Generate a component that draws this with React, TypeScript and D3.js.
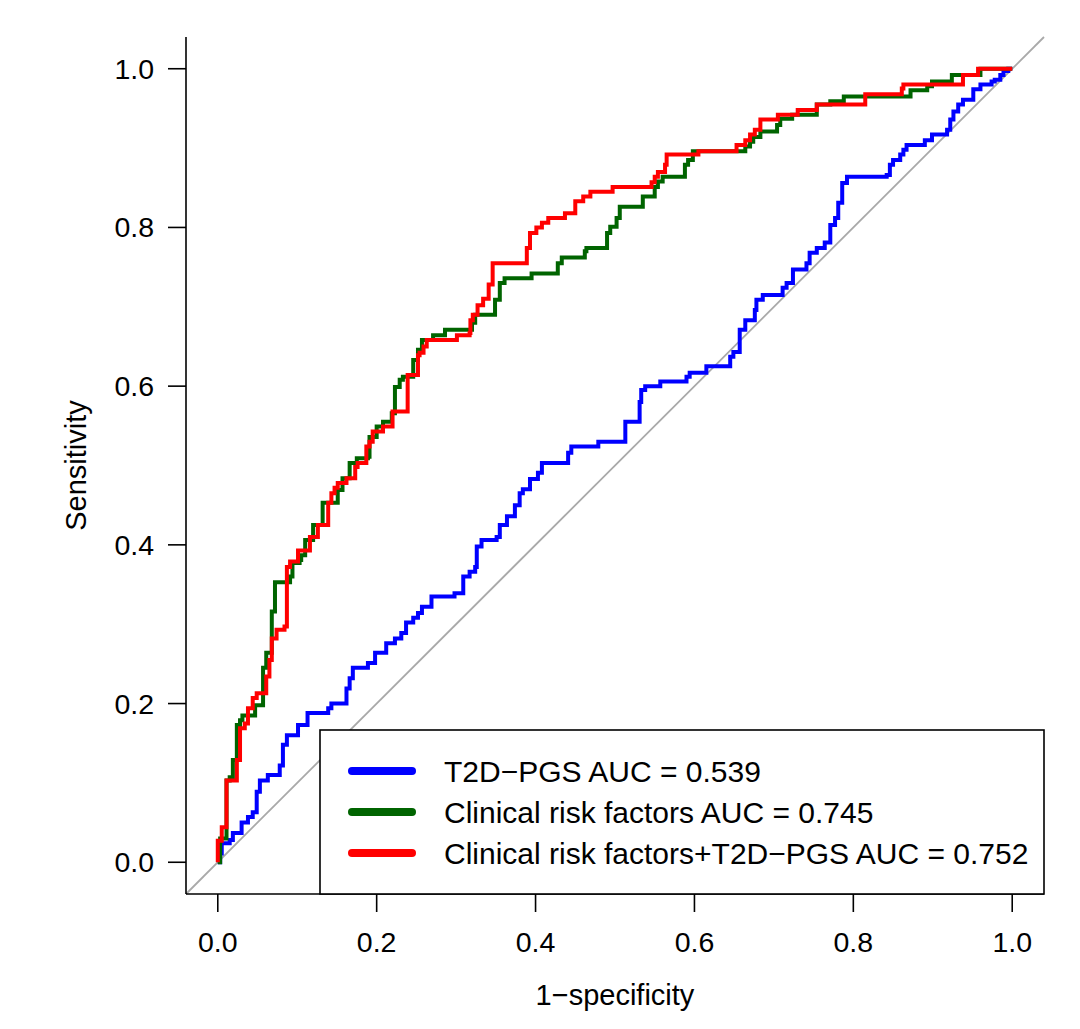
import React from "react";
import * as d3 from "d3";

// ROC curves: [1-specificity, sensitivity] at each step
const pgsCurve: [number, number][] = [
  [0, 0], [0.003, 0.011], [0.005, 0.024], [0.015, 0.028], [0.019, 0.037], [0.03, 0.05],
  [0.038, 0.057], [0.044, 0.063], [0.049, 0.089], [0.053, 0.103], [0.063, 0.11],
  [0.078, 0.122], [0.082, 0.148], [0.087, 0.16], [0.101, 0.173], [0.113, 0.188],
  [0.139, 0.194], [0.143, 0.2], [0.162, 0.219], [0.166, 0.232], [0.17, 0.245],
  [0.189, 0.251], [0.198, 0.264], [0.212, 0.276], [0.223, 0.282], [0.231, 0.289],
  [0.237, 0.302], [0.246, 0.308], [0.252, 0.314], [0.257, 0.322], [0.269, 0.335],
  [0.298, 0.339], [0.309, 0.36], [0.317, 0.366], [0.324, 0.372], [0.326, 0.398],
  [0.332, 0.406], [0.351, 0.41], [0.355, 0.425], [0.364, 0.436], [0.374, 0.45],
  [0.38, 0.465], [0.384, 0.47], [0.393, 0.483], [0.403, 0.491], [0.408, 0.503],
  [0.441, 0.516], [0.445, 0.524], [0.479, 0.53], [0.513, 0.555], [0.531, 0.58],
  [0.533, 0.595], [0.538, 0.6], [0.557, 0.606], [0.59, 0.612], [0.594, 0.617],
  [0.615, 0.625], [0.645, 0.637], [0.649, 0.643], [0.657, 0.671], [0.664, 0.683],
  [0.676, 0.696], [0.678, 0.709], [0.686, 0.715], [0.711, 0.724], [0.716, 0.73],
  [0.724, 0.747], [0.741, 0.755], [0.745, 0.768], [0.754, 0.774], [0.764, 0.781],
  [0.771, 0.803], [0.777, 0.812], [0.781, 0.831], [0.786, 0.856], [0.792, 0.864],
  [0.842, 0.866], [0.846, 0.879], [0.85, 0.885], [0.859, 0.892], [0.863, 0.898],
  [0.867, 0.904], [0.89, 0.91], [0.899, 0.917], [0.918, 0.923], [0.922, 0.936],
  [0.926, 0.946], [0.932, 0.955], [0.938, 0.961], [0.951, 0.974], [0.96, 0.98],
  [0.974, 0.984], [0.978, 0.986], [0.985, 0.992], [0.989, 0.997], [0.995, 1.0], [1.0, 1.0],
];

const clinicalCurve: [number, number][] = [
  [0, 0], [0.003, 0.03], [0.011, 0.103], [0.015, 0.107], [0.019, 0.129], [0.024, 0.173],
  [0.028, 0.179], [0.031, 0.185], [0.047, 0.198], [0.057, 0.245], [0.061, 0.264],
  [0.068, 0.316], [0.072, 0.353], [0.091, 0.36], [0.094, 0.377], [0.103, 0.381],
  [0.105, 0.387], [0.11, 0.406], [0.12, 0.425], [0.132, 0.453], [0.151, 0.469],
  [0.157, 0.484], [0.166, 0.503], [0.175, 0.509], [0.189, 0.511], [0.191, 0.536],
  [0.2, 0.549], [0.208, 0.555], [0.219, 0.566], [0.223, 0.599], [0.229, 0.608],
  [0.233, 0.612], [0.246, 0.633], [0.252, 0.646], [0.257, 0.658], [0.271, 0.664],
  [0.286, 0.671], [0.32, 0.68], [0.324, 0.69], [0.349, 0.709], [0.355, 0.73],
  [0.361, 0.736], [0.395, 0.742], [0.428, 0.755], [0.433, 0.762], [0.462, 0.77],
  [0.464, 0.774], [0.49, 0.793], [0.494, 0.801], [0.502, 0.812], [0.506, 0.826],
  [0.535, 0.839], [0.55, 0.851], [0.554, 0.858], [0.56, 0.864], [0.588, 0.879],
  [0.592, 0.885], [0.598, 0.896], [0.664, 0.902], [0.67, 0.908], [0.674, 0.914],
  [0.683, 0.921], [0.704, 0.929], [0.708, 0.937], [0.723, 0.942], [0.754, 0.955],
  [0.771, 0.959], [0.788, 0.965], [0.872, 0.973], [0.893, 0.978], [0.899, 0.984],
  [0.924, 0.992], [0.96, 1.0], [1.0, 1.0],
];

const combinedCurve: [number, number][] = [
  [0, 0], [0, 0.027], [0.005, 0.044], [0.011, 0.103], [0.024, 0.129], [0.028, 0.169],
  [0.034, 0.175], [0.038, 0.194], [0.044, 0.207], [0.049, 0.213], [0.061, 0.234],
  [0.065, 0.255], [0.068, 0.282], [0.074, 0.293], [0.084, 0.297], [0.087, 0.372],
  [0.091, 0.379], [0.101, 0.393], [0.116, 0.41], [0.126, 0.425], [0.139, 0.453],
  [0.143, 0.465], [0.147, 0.472], [0.151, 0.478], [0.162, 0.484], [0.173, 0.498],
  [0.176, 0.503], [0.187, 0.524], [0.191, 0.53], [0.195, 0.543], [0.208, 0.549],
  [0.22, 0.568], [0.239, 0.614], [0.252, 0.639], [0.254, 0.642], [0.259, 0.65],
  [0.263, 0.658], [0.301, 0.664], [0.317, 0.667], [0.318, 0.683], [0.321, 0.69],
  [0.327, 0.702], [0.334, 0.71], [0.341, 0.728], [0.346, 0.755], [0.389, 0.774],
  [0.393, 0.793], [0.401, 0.8], [0.408, 0.806], [0.416, 0.812], [0.437, 0.818],
  [0.45, 0.833], [0.46, 0.839], [0.469, 0.845], [0.497, 0.851], [0.546, 0.857],
  [0.55, 0.864], [0.554, 0.87], [0.563, 0.879], [0.565, 0.892], [0.605, 0.896],
  [0.653, 0.904], [0.664, 0.91], [0.67, 0.917], [0.676, 0.923], [0.683, 0.936],
  [0.705, 0.942], [0.73, 0.948], [0.754, 0.955], [0.815, 0.968], [0.861, 0.975],
  [0.863, 0.98], [0.938, 0.992], [0.957, 1.0], [1.0, 1.0],
];

const seriesNames = [
  "T2D\u2212PGS AUC = 0.539",
  "Clinical risk factors AUC = 0.745",
  "Clinical risk factors+T2D\u2212PGS AUC = 0.752",
];
const seriesColors = ["#0000ff", "#006400", "#ff0000"];
const tickValues = [0, 0.2, 0.4, 0.6, 0.8, 1.0];
const xTitle = "1\u2212specificity";
const yTitle = "Sensitivity";

const W = 1080;
const H = 1029;
const FONT = "'Liberation Sans', Arial, Helvetica, sans-serif";

export default function App() {
  const x = d3.scaleLinear().domain([-0.04, 1.04]).range([186, 1044]);
  const y = d3.scaleLinear().domain([-0.04, 1.04]).range([894, 37]);
  const line = d3
    .line<[number, number]>()
    .x((d) => x(d[0]))
    .y((d) => y(d[1]))
    .curve(d3.curveStepAfter);
  const curves = [pgsCurve, clinicalCurve, combinedCurve];

  const [x0, x1] = x.range();
  const [y0, y1] = y.range();
  const legendTop = 730;
  const legendRows = [771, 812, 853];

  return (
    <svg
      width={W}
      height={H}
      style={{ position: "absolute", left: 0, top: 0, display: "block", background: "#fff" }}
      fontFamily={FONT}
    >
      <rect x={0} y={0} width={W} height={H} fill="#fff" />
      {/* diagonal reference */}
      <line x1={x0} y1={y0} x2={x1} y2={y1} stroke="#a9a9a9" strokeWidth={1.8} />
      {/* curves */}
      {curves.map((c, i) => (
        <path
          key={i}
          d={line(c) || ""}
          fill="none"
          stroke={seriesColors[i]}
          strokeWidth={4}
          strokeLinejoin="miter"
          strokeLinecap="butt"
        />
      ))}
      {/* axes */}
      <line x1={x0} y1={y0} x2={x0} y2={y1} stroke="#000" strokeWidth={1.6} />
      <line x1={x0} y1={y0} x2={x1} y2={y0} stroke="#000" strokeWidth={1.6} />
      {tickValues.map((t) => (
        <g key={"x" + t}>
          <line x1={x(t)} x2={x(t)} y1={y0} y2={y0 + 18} stroke="#000" strokeWidth={1.6} />
          <text x={x(t)} y={952} textAnchor="middle" fontSize={28.5} fill="#000">
            {t.toFixed(1)}
          </text>
        </g>
      ))}
      {tickValues.map((t) => (
        <g key={"y" + t}>
          <line x1={x0 - 18} x2={x0} y1={y(t)} y2={y(t)} stroke="#000" strokeWidth={1.6} />
          <text x={154} y={y(t) + 10} textAnchor="end" fontSize={28.5} fill="#000">
            {t.toFixed(1)}
          </text>
        </g>
      ))}
      <text x={(x0 + x1) / 2} y={1005} textAnchor="middle" fontSize={29} fill="#000">
        {xTitle}
      </text>
      <text
        transform={`translate(86, ${(y0 + y1) / 2}) rotate(-90)`}
        textAnchor="middle"
        fontSize={29}
        fill="#000"
      >
        {yTitle}
      </text>
      {/* legend */}
      <rect
        x={320}
        y={legendTop}
        width={x1 - 320}
        height={y0 - legendTop}
        fill="#fff"
        stroke="#000"
        strokeWidth={1.6}
      />
      {seriesNames.map((n, i) => (
        <g key={n}>
          <line
            x1={352}
            x2={412}
            y1={legendRows[i]}
            y2={legendRows[i]}
            stroke={seriesColors[i]}
            strokeWidth={8}
            strokeLinecap="round"
          />
          <text x={444} y={legendRows[i] + 10.5} fontSize={30} fill="#000">
            {n}
          </text>
        </g>
      ))}
    </svg>
  );
}
